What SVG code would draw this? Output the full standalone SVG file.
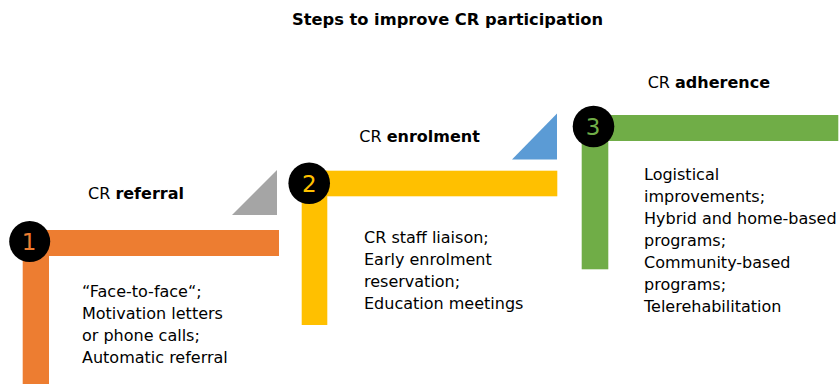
<svg xmlns="http://www.w3.org/2000/svg" width="840" height="385" viewBox="0 0 840 385">
<style>
text{font-family:"DejaVu Sans","Verdana",sans-serif;fill:#000}
.t{font-size:16px}
.b{font-weight:bold}
.num{font-size:23px;text-anchor:middle}
</style>
<rect width="840" height="385" fill="#fff"/>
<text class="t b" x="447.5" y="25" text-anchor="middle" style="font-size:16.3px">Steps to improve CR participation</text>
<g id="connectors">
<polygon points="232,215 277,215 277,170" fill="#A5A5A5"/>
<polygon points="512,159.5 557,159.5 557,113.5" fill="#5B9BD5"/>
</g>
<g id="step1">
<rect x="22.7" y="230" width="256.3" height="26" fill="#ED7D31"/>
<rect x="22.7" y="230" width="26.3" height="154" fill="#ED7D31"/>
<circle cx="29.7" cy="241.5" r="20.5" fill="#000"/>
<text class="num" x="29" y="250" style="fill:#ED7D31">1</text>
<text class="t" x="88" y="199">CR <tspan class="b">referral</tspan></text>
<text class="t" x="82" y="297">“Face-to-face“;</text>
<text class="t" x="82" y="319">Motivation letters</text>
<text class="t" x="82" y="341">or phone calls;</text>
<text class="t" x="82" y="363">Automatic referral</text>
</g>
<g id="step2">
<rect x="301.7" y="170.7" width="255.6" height="25.6" fill="#FFC000"/>
<rect x="301.7" y="170.7" width="25.6" height="154.3" fill="#FFC000"/>
<circle cx="309.2" cy="183.2" r="20.8" fill="#000"/>
<text class="num" x="309.2" y="191.5" style="fill:#FFC000">2</text>
<text class="t" x="359.3" y="141.7">CR <tspan class="b">enrolment</tspan></text>
<text class="t" x="364" y="243">CR staff liaison;</text>
<text class="t" x="364" y="265">Early enrolment</text>
<text class="t" x="364" y="287">reservation;</text>
<text class="t" x="364" y="309">Education meetings</text>
</g>
<g id="step3">
<rect x="581.7" y="115" width="256.6" height="26" fill="#70AD47"/>
<rect x="581.7" y="115" width="26.6" height="154.3" fill="#70AD47"/>
<circle cx="593.5" cy="126.5" r="20.8" fill="#000"/>
<text class="num" x="593" y="135" style="fill:#70AD47">3</text>
<text class="t" x="647.7" y="88.3">CR <tspan class="b">adherence</tspan></text>
<text class="t" x="644" y="180">Logistical</text>
<text class="t" x="644" y="202">improvements;</text>
<text class="t" x="644" y="224">Hybrid and home-based</text>
<text class="t" x="644" y="246">programs;</text>
<text class="t" x="644" y="268">Community-based</text>
<text class="t" x="644" y="290">programs;</text>
<text class="t" x="644" y="312">Telerehabilitation</text>
</g>
</svg>
